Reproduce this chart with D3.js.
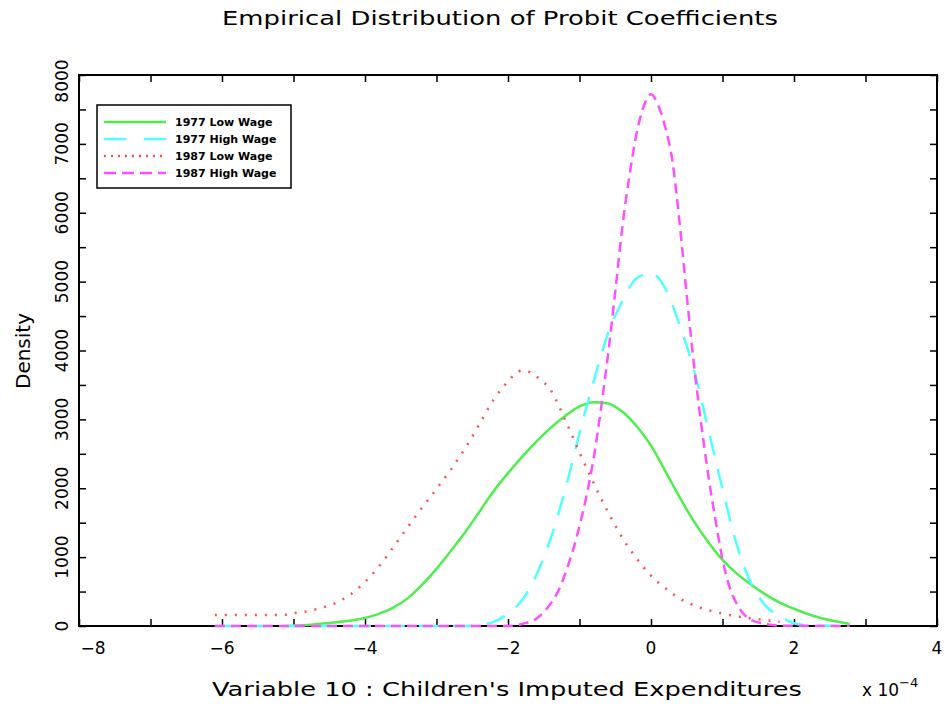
<!doctype html>
<html>
<head>
<meta charset="utf-8" />
<title>Empirical Distribution of Probit Coefficients</title>
<script src="https://cdn.jsdelivr.net/npm/d3@7/dist/d3.min.js"></script>
<style>
  body { margin: 0; background: #fff; }
  text { font-family: "DejaVu Sans", sans-serif; fill: #000; }
</style>
</head>
<body>
<div id="chart"></div>
<script>
// values (x in units of 1e-4, density)
var lowWage77X = [-5.1, -4.8, -4.5, -4.2, -4.0, -3.8, -3.6, -3.4, -3.2, -3.0, -2.8, -2.6, -2.4, -2.2, -2.0, -1.8, -1.6, -1.4, -1.2, -1.0, -0.8, -0.6, -0.4, -0.2, 0.0, 0.2, 0.4, 0.6, 0.8, 1.0, 1.2, 1.4, 1.6, 1.8, 2.0, 2.2, 2.4, 2.6, 2.78];
var lowWage77Y = [0, 15, 45, 80, 115, 180, 270, 405, 600, 830, 1090, 1360, 1660, 1960, 2220, 2460, 2680, 2880, 3050, 3190, 3250, 3230, 3110, 2900, 2620, 2250, 1870, 1520, 1220, 960, 760, 600, 460, 340, 250, 170, 110, 65, 30];

var highWage77X = [-6.1, -2.6, -2.4, -2.2, -2.0, -1.8, -1.6, -1.4, -1.2, -1.0, -0.8, -0.6, -0.4, -0.2, 0.0, 0.2, 0.4, 0.6, 0.8, 1.0, 1.2, 1.4, 1.6, 1.8, 2.0, 2.2, 2.78];
var highWage77Y = [0, 0, 15, 60, 180, 380, 750, 1280, 1980, 2800, 3560, 4250, 4720, 5050, 5120, 4900, 4370, 3720, 2860, 1990, 1180, 620, 300, 140, 40, 10, 0];

var lowWage87X = [-6.1, -5.15, -5.0, -4.8, -4.6, -4.4, -4.2, -4.0, -3.8, -3.6, -3.4, -3.2, -3.0, -2.8, -2.6, -2.4, -2.2, -2.0, -1.9, -1.8, -1.7, -1.6, -1.5, -1.4, -1.3, -1.2, -1.1, -1.0, -0.8, -0.6, -0.4, -0.2, 0.0, 0.2, 0.4, 0.6, 0.8, 1.0, 1.2, 1.4, 1.6, 1.8];
var lowWage87Y = [160, 160, 185, 215, 265, 340, 460, 640, 870, 1150, 1440, 1720, 1990, 2270, 2580, 2930, 3290, 3550, 3660, 3710, 3690, 3620, 3540, 3420, 3220, 2990, 2760, 2520, 2070, 1650, 1280, 980, 730, 550, 400, 300, 230, 180, 140, 110, 85, 60];

var highWage87X = [-6.1, -2.0, -1.8, -1.6, -1.4, -1.3, -1.2, -1.1, -1.0, -0.9, -0.8, -0.7, -0.6, -0.5, -0.4, -0.3, -0.2, -0.1, 0.0, 0.1, 0.2, 0.3, 0.4, 0.5, 0.6, 0.7, 0.8, 0.9, 1.0, 1.1, 1.2, 1.3, 1.4, 1.6, 1.8, 2.78];
var highWage87Y = [0, 0, 30, 110, 330, 500, 760, 1070, 1450, 1900, 2450, 3150, 3950, 4850, 5800, 6550, 7160, 7550, 7720, 7560, 7240, 6750, 5850, 4800, 3800, 2950, 2200, 1550, 970, 560, 320, 170, 90, 30, 5, 0];

var seriesNames = ["1977 Low Wage", "1977 High Wage", "1987 Low Wage", "1987 High Wage"];
var xTicks = [-8, -6, -4, -2, 0, 2, 4];
var yTicks = [0, 1000, 2000, 3000, 4000, 5000, 6000, 7000, 8000];

var series = [
  { name: seriesNames[0], xs: lowWage77X, ys: lowWage77Y, color: "#4def4d", dash: null, legDash: null },
  { name: seriesNames[1], xs: highWage77X, ys: highWage77Y, color: "#50ffff", dash: "20 14", legDash: "22 18" },
  { name: seriesNames[2], xs: lowWage87X, ys: lowWage87Y, color: "#ff5050", dash: "2 8", legDash: "2 5" },
  { name: seriesNames[3], xs: highWage87X, ys: highWage87Y, color: "#ff50ff", dash: "10 6", legDash: "12 6" }
];

var W = 945, H = 706;
var padL = 79, padR = 937, padT = 75, padB = 626;

var svg = d3.select("#chart").append("svg")
  .attr("width", W).attr("height", H)
  .style("display", "block");

var x = d3.scaleLinear().domain([-8, 4]).range([padL, padR]);
var y = d3.scaleLinear().domain([0, 8000]).range([padB, padT]);

// ticks, all pointing inward
var minorX = d3.range(-8, 4.01, 1);
var minorY = d3.range(0, 8001, 500);

svg.append("g").attr("transform", "translate(0," + padB + ")")
  .call(d3.axisBottom(x).tickValues(minorX).tickSize(-7).tickFormat(""))
  .call(function (g) { g.select(".domain").remove(); });
svg.append("g").attr("transform", "translate(0," + padT + ")")
  .call(d3.axisTop(x).tickValues(minorX).tickSize(-7).tickFormat(""))
  .call(function (g) { g.select(".domain").remove(); });
svg.append("g").attr("transform", "translate(" + padL + ",0)")
  .call(d3.axisLeft(y).tickValues(minorY).tickSize(-7).tickFormat(""))
  .call(function (g) { g.select(".domain").remove(); });
svg.append("g").attr("transform", "translate(" + padR + ",0)")
  .call(d3.axisRight(y).tickValues(minorY).tickSize(-7).tickFormat(""))
  .call(function (g) { g.select(".domain").remove(); });
svg.selectAll(".tick line").attr("stroke", "#000").attr("stroke-width", 1.5);

svg.append("rect")
  .attr("x", padL).attr("y", padT)
  .attr("width", padR - padL).attr("height", padB - padT)
  .attr("fill", "none").attr("stroke", "#000").attr("stroke-width", 2);

// x tick labels
svg.append("g").selectAll("text").data(xTicks).enter().append("text")
  .attr("x", function (d, i) { return i === 0 ? x(d) + 14 : x(d); })
  .attr("y", 654)
  .attr("text-anchor", "middle")
  .style("font-size", "17px")
  .text(function (d) { return d < 0 ? "\u2212" + Math.abs(d) : d; });

// y tick labels, rotated
svg.append("g").selectAll("text").data(yTicks).enter().append("text")
  .attr("transform", function (d, i) {
    var yy = i === yTicks.length - 1 ? y(d) + 6 : y(d);
    return "translate(62," + yy + ") rotate(-90)";
  })
  .attr("text-anchor", "middle")
  .attr("dominant-baseline", "central")
  .style("font-size", "17px")
  .text(function (d) { return d; });

// curves
var line = d3.line()
  .x(function (d) { return x(d[0]); })
  .y(function (d) { return y(d[1]); })
  .curve(d3.curveMonotoneX);

series.forEach(function (s) {
  var pts = s.xs.map(function (v, i) { return [v, s.ys[i]]; });
  svg.append("path")
    .attr("d", line(pts))
    .attr("fill", "none")
    .attr("stroke", s.color)
    .attr("stroke-width", 2.5)
    .attr("stroke-dasharray", s.dash);
});

// legend
var lg = svg.append("g");
lg.append("rect")
  .attr("x", 97).attr("y", 105).attr("width", 194).attr("height", 83)
  .attr("fill", "#fff").attr("stroke", "#000").attr("stroke-width", 1.5);
series.forEach(function (s, i) {
  var ly = 122 + i * 17;
  lg.append("line")
    .attr("x1", 104).attr("x2", 166).attr("y1", ly).attr("y2", ly)
    .attr("stroke", s.color).attr("stroke-width", 2.5)
    .attr("stroke-dasharray", s.legDash);
  lg.append("text")
    .attr("x", 175).attr("y", ly)
    .attr("dominant-baseline", "central")
    .style("font-size", "11px")
    .style("font-weight", "bold")
    .text(s.name);
});

// titles
svg.append("text")
  .attr("x", 500).attr("y", 25)
  .attr("text-anchor", "middle")
  .attr("textLength", 556).attr("lengthAdjust", "spacingAndGlyphs")
  .style("font-size", "19px")
  .text("Empirical Distribution of Probit Coefficients");

svg.append("text")
  .attr("x", 212).attr("y", 696)
  .attr("textLength", 590).attr("lengthAdjust", "spacingAndGlyphs")
  .style("font-size", "19px")
  .text("Variable 10 : Children's Imputed Expenditures");

var sub = svg.append("text").attr("x", 862).attr("y", 696).style("font-size", "17px");
sub.append("tspan").text("x 10");
sub.append("tspan").attr("dy", -9).style("font-size", "13px").text("\u22124");

svg.append("text")
  .attr("transform", "translate(30,351) rotate(-90)")
  .attr("text-anchor", "middle")
  .style("font-size", "20px")
  .text("Density");
</script>
</body>
</html>
